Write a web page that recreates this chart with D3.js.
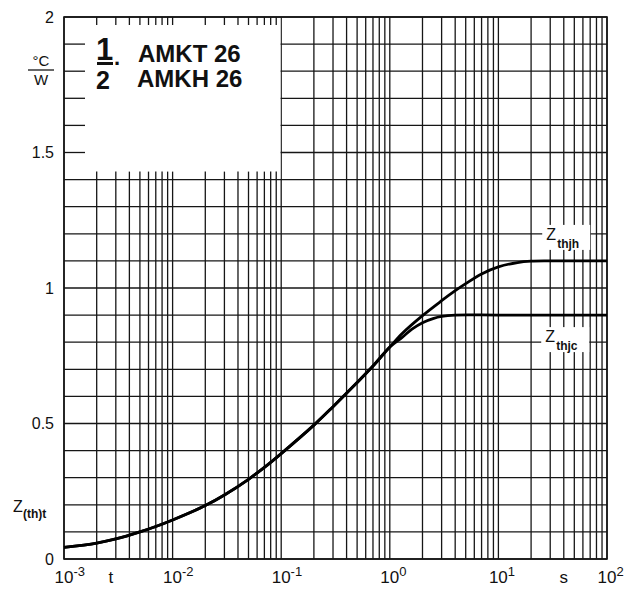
<!DOCTYPE html>
<html>
<head>
<meta charset="utf-8">
<script src="https://cdn.jsdelivr.net/npm/d3@7"></script>
<style>
  body { margin: 0; background: #fff; }
  text { font-family: "Liberation Sans", Arial, sans-serif; fill: #111; }
</style>
</head>
<body>
<script>
// time (s) where both curves run together
var tCommon = [0.001, 0.002, 0.003, 0.005, 0.007, 0.01, 0.02, 0.03, 0.05, 0.07, 0.1, 0.2, 0.3, 0.5, 0.7, 1.0];
var zCommon = [0.043, 0.059, 0.074, 0.100, 0.120, 0.144, 0.197, 0.236, 0.294, 0.338, 0.389, 0.494, 0.562, 0.651, 0.712, 0.782];

// tails after the split
var tJh = [1.3, 2, 3, 4, 5, 7, 10, 15, 20, 30, 100];
var zJh = [0.832, 0.898, 0.953, 0.990, 1.016, 1.052, 1.078, 1.094, 1.099, 1.100, 1.100];
var tJc = [1.3, 1.6, 2, 2.5, 3, 4, 10, 100];
var zJc = [0.818, 0.848, 0.872, 0.887, 0.895, 0.900, 0.900, 0.900];

var yTicks = [0, 0.5, 1, 1.5, 2];
var yTickText = ["0", "0.5", "1", "1.5", "2"];
var xTickVals = [1e-3, 1e-2, 1e-1, 1, 10, 100];
var xTickExp = ["-3", "-2", "-1", "0", "1", "2"];

var W = 640, H = 589;
var margin = {top: 17, right: 33, bottom: 30, left: 64},
    width = W - margin.left - margin.right,
    height = H - margin.top - margin.bottom;

var svg = d3.select("body").append("svg")
    .attr("width", W).attr("height", H);
var g = svg.append("g")
    .attr("transform", "translate(" + margin.left + "," + margin.top + ")");

var x = d3.scaleLog().domain([1e-3, 1e2]).range([0, width]);
var y = d3.scaleLinear().domain([0, 2]).range([height, 0]);

var ink = "#161616";

// ---- grid ----
var logTicks = [];
for (var e = -3; e < 2; e++) {
  for (var m = 1; m < 10; m++) logTicks.push(m * Math.pow(10, e));
}
logTicks.push(100);
var hTicks = d3.range(0, 21).map(function(i) { return i / 10; });

g.selectAll(".vgrid").data(logTicks).enter().append("line")
  .attr("class", "vgrid")
  .attr("x1", function(d) { return x(d); }).attr("x2", function(d) { return x(d); })
  .attr("y1", 0).attr("y2", height)
  .attr("stroke", ink).attr("stroke-width", 1.3);

g.selectAll(".hgrid").data(hTicks).enter().append("line")
  .attr("class", "hgrid")
  .attr("x1", 0).attr("x2", width)
  .attr("y1", function(d) { return y(d); }).attr("y2", function(d) { return y(d); })
  .attr("stroke", ink).attr("stroke-width", 1.3);

// ---- white legend box top-left, only edge ticks inside ----
var bx1 = x(0.1), by1 = y(1.4);
g.append("rect").attr("x", 1).attr("y", 1)
  .attr("width", bx1 - 1.7).attr("height", by1 - 1.7)
  .attr("fill", "#fff");

var boxV = logTicks.filter(function(d) { return d > 1e-3 && d < 0.1; });
g.selectAll(".ttick").data(boxV).enter().append("line")
  .attr("x1", function(d) { return x(d); }).attr("x2", function(d) { return x(d); })
  .attr("y1", 0).attr("y2", 8)
  .attr("stroke", ink).attr("stroke-width", 1.3);
g.selectAll(".btick").data(boxV).enter().append("line")
  .attr("x1", function(d) { return x(d); }).attr("x2", function(d) { return x(d); })
  .attr("y1", by1).attr("y2", by1 - 8)
  .attr("stroke", ink).attr("stroke-width", 1.3);
var boxH = hTicks.filter(function(d) { return d > 1.4 && d < 2; });
g.selectAll(".ltick").data(boxH).enter().append("line")
  .attr("x1", 0).attr("x2", 21)
  .attr("y1", function(d) { return y(d); }).attr("y2", function(d) { return y(d); })
  .attr("stroke", ink).attr("stroke-width", 1.3);

// frame
g.append("rect").attr("width", width).attr("height", height)
  .attr("fill", "none").attr("stroke", ink).attr("stroke-width", 1.6);

// ---- curves ----
var line = d3.line()
  .x(function(d) { return x(d[0]); })
  .y(function(d) { return y(d[1]); })
  .curve(d3.curveCatmullRom.alpha(0.5));

var common = tCommon.map(function(t, i) { return [t, zCommon[i]]; });
var jh = common.concat(tJh.map(function(t, i) { return [t, zJh[i]]; }));
var jc = common.concat(tJc.map(function(t, i) { return [t, zJc[i]]; }));

[jh, jc].forEach(function(s) {
  g.append("path").datum(s)
    .attr("d", line)
    .attr("fill", "none").attr("stroke", "#000").attr("stroke-width", 2.8);
});

// ---- curve labels with white background ----
function zLabel(px, py, sub) {
  g.append("rect").attr("x", px - 4).attr("y", py - 15)
    .attr("width", 48).attr("height", 25).attr("fill", "#fff");
  g.append("text").attr("x", px).attr("y", py)
    .style("font-size", "16px").text("Z");
  g.append("text").attr("x", px + 11).attr("y", py + 8)
    .style("font-size", "12px").style("font-weight", "bold").text(sub);
}
zLabel(x(30) - 4, y(1.1) - 21, "thjh");
zLabel(x(30) - 5, y(0.9) + 27, "thjc");

// ---- axes text ----
g.selectAll(".ylab").data(yTicks).enter().append("text")
  .attr("x", -10).attr("y", function(d) { return y(d); })
  .attr("dy", "0.36em").attr("text-anchor", "end")
  .style("font-size", "16px")
  .text(function(d, i) { return yTickText[i]; });

var xl = g.selectAll(".xlab").data(xTickVals).enter().append("text")
  .attr("x", function(d) { return x(d) - 9.5; }).attr("y", height + 24)
  .style("font-size", "17px");
xl.append("tspan").text("10");
xl.append("tspan").attr("dy", -7).style("font-size", "13px")
  .text(function(d, i) { return xTickExp[i]; });

g.append("text").attr("x", x(0.0027)).attr("y", height + 24)
  .attr("text-anchor", "middle").style("font-size", "17px").text("t");
g.append("text").attr("x", x(40)).attr("y", height + 24)
  .attr("text-anchor", "middle").style("font-size", "17px").text("s");

// Z(th)t on the left
svg.append("text").attr("x", 13).attr("y", 512).style("font-size", "16px").text("Z");
svg.append("text").attr("x", 23).attr("y", 518).style("font-size", "12px")
  .style("font-weight", "bold").text("(th)t");

// unit °C / W
svg.append("text").attr("x", 41).attr("y", 66).attr("text-anchor", "middle")
  .style("font-size", "15px").text("°C");
svg.append("line").attr("x1", 28).attr("x2", 54).attr("y1", 70).attr("y2", 70)
  .attr("stroke", ink).attr("stroke-width", 1.3);
svg.append("text").attr("x", 41).attr("y", 85).attr("text-anchor", "middle")
  .style("font-size", "15px").text("W");

// legend inside the box
var lg = svg.append("g").style("font-weight", "bold");
lg.append("text").attr("x", 96).attr("y", 60).style("font-size", "31px").text("1");
lg.append("rect").attr("x", 97).attr("y", 62).attr("width", 16).attr("height", 3).attr("fill", "#111");
lg.append("text").attr("x", 114).attr("y", 65).style("font-size", "22px").text(".");
lg.append("text").attr("x", 96).attr("y", 89).style("font-size", "25px").text("2");
lg.append("text").attr("x", 138).attr("y", 62).style("font-size", "24px").text("AMKT 26");
lg.append("text").attr("x", 137).attr("y", 87).style("font-size", "24px").text("AMKH 26");
</script>
</body>
</html>
